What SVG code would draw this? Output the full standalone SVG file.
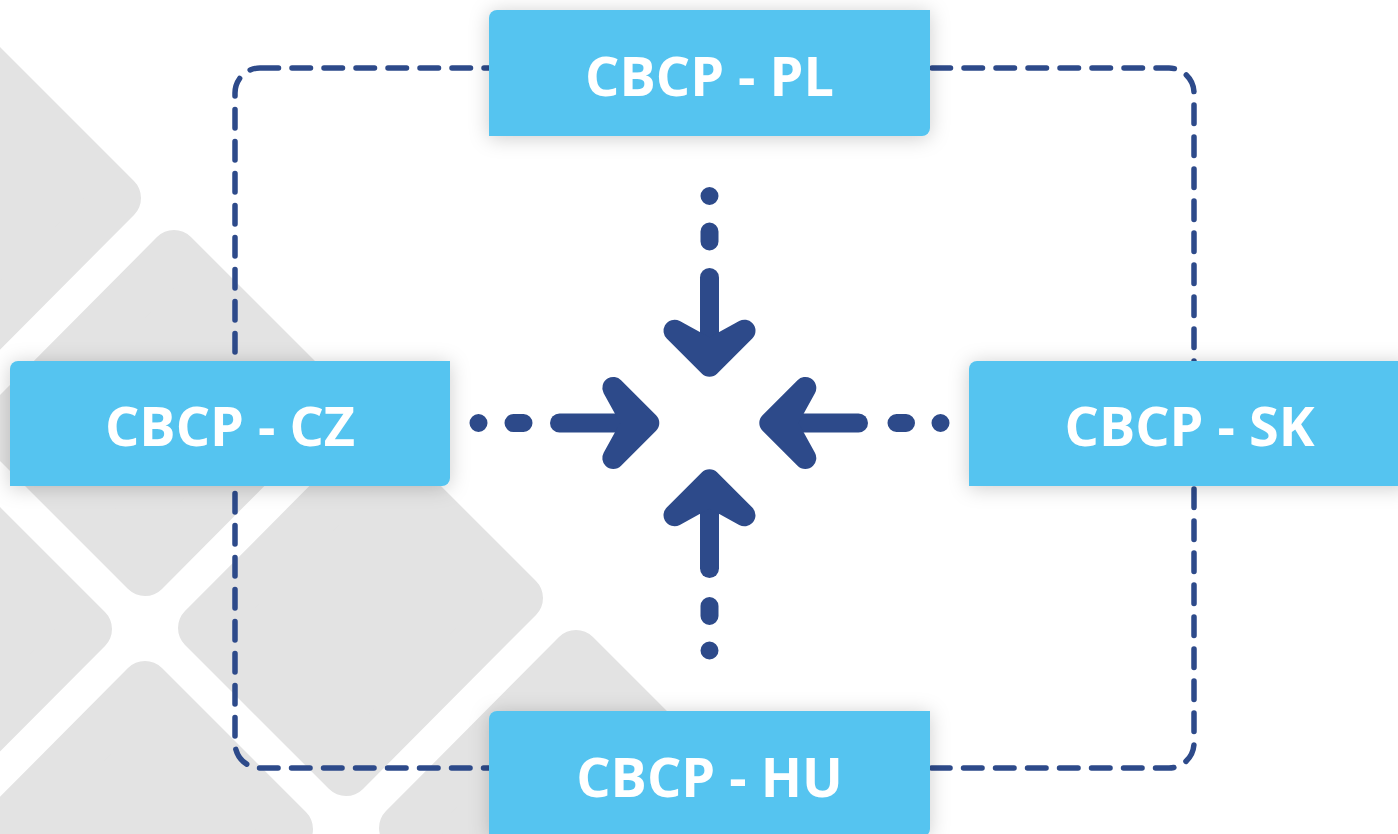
<svg xmlns="http://www.w3.org/2000/svg" width="1398" height="834" viewBox="0 0 1398 834">
  <style>
    .tile { fill: #E3E3E3; stroke: #E3E3E3; stroke-width: 48; stroke-linejoin: round; }
    .box { fill: #55C4F0; }
    .label { font-family: "Open Sans", "Liberation Sans", sans-serif; font-weight: 700; font-size: 54px; fill: #FFFFFF; text-anchor: middle; }
    .frame { fill: none; stroke: #2D4A8A; stroke-width: 5.5; stroke-dasharray: 18.5 13.5; stroke-linecap: round; }
    .shaft { fill: none; stroke: #2D4A8A; stroke-width: 19; stroke-linecap: round; stroke-linejoin: round; }
    .head { fill: #2D4A8A; stroke: #2D4A8A; stroke-width: 22; stroke-linecap: round; stroke-linejoin: round; }
    .dots { fill: none; stroke: #2D4A8A; stroke-width: 18; stroke-linecap: round; }
  </style>
  <defs>
    <path id="tileShape" d="M14.5 -159 L158.5 -15 L-14.5 159 L-158.5 15 Z"/>
    <filter id="shadow" x="-20%" y="-40%" width="140%" height="180%">
      <feDropShadow dx="0" dy="2" stdDeviation="10" flood-color="#000000" flood-opacity="0.2"/>
    </filter>
  </defs>
  <rect x="0" y="0" width="1398" height="834" fill="#FFFFFF"/>
  <g id="background">
    <use href="#tileShape" class="tile" transform="translate(-41.5 213)"/>
    <use href="#tileShape" class="tile" transform="translate(159.5 413)"/>
    <use href="#tileShape" class="tile" transform="translate(360.5 613)"/>
    <use href="#tileShape" class="tile" transform="translate(-70.5 644)"/>
    <use href="#tileShape" class="tile" transform="translate(130.5 844)"/>
    <use href="#tileShape" class="tile" transform="translate(561.5 813)"/>
  </g>
  <g id="connectors">
    <rect class="frame" x="235" y="68" width="959" height="700" rx="25" ry="25"/>
    <g id="arrow-top">
      <path class="dots" d="M709.5 196 v0.01 M709.5 231.5 V241.5"/>
      <path class="shaft" d="M709.5 277.5 V355"/>
      <path class="head" d="M674.5 330.7 L709.5 365.7 L744.5 330.7 L709.5 350 Z"/>
    </g>
    <g id="arrow-bottom">
      <path class="dots" d="M709.5 650.5 v0.01 M709.5 606 V616"/>
      <path class="shaft" d="M709.5 568.5 V490"/>
      <path class="head" d="M674.5 515.3 L709.5 480.3 L744.5 515.3 L709.5 496 Z"/>
    </g>
    <g id="arrow-left">
      <path class="dots" d="M478.5 423 h0.01 M513.5 423 H523.5"/>
      <path class="shaft" d="M559.5 423 H638"/>
      <path class="head" d="M613.3 388 L648.3 423 L613.3 458 L632.6 423 Z"/>
    </g>
    <g id="arrow-right">
      <path class="dots" d="M940.5 423 h0.01 M896.5 423 H906"/>
      <path class="shaft" d="M858.5 423 H780"/>
      <path class="head" d="M805.3 388 L770.3 423 L805.3 458 L786 423 Z"/>
    </g>
  </g>
  <g id="node-pl">
    <path class="box" filter="url(#shadow)" d="M497 10 H930 V128 A8 8 0 0 1 922 136 H489 V18 A8 8 0 0 1 497 10 Z"/>
    <text class="label" x="709.5" y="96">CBCP - PL</text>
  </g>
  <g id="node-cz">
    <path class="box" filter="url(#shadow)" d="M18 361 H450 V478 A8 8 0 0 1 442 486 H10 V369 A8 8 0 0 1 18 361 Z"/>
    <text class="label" x="230" y="446">CBCP - CZ</text>
  </g>
  <g id="node-sk">
    <path class="box" filter="url(#shadow)" d="M977 361 H1410 V478 A8 8 0 0 1 1402 486 H969 V369 A8 8 0 0 1 977 361 Z"/>
    <text class="label" x="1189.5" y="446">CBCP - SK</text>
  </g>
  <g id="node-hu">
    <path class="box" filter="url(#shadow)" d="M497 711 H930 V829 A8 8 0 0 1 922 837 H489 V719 A8 8 0 0 1 497 711 Z"/>
    <text class="label" x="709.5" y="797">CBCP - HU</text>
  </g>
</svg>
